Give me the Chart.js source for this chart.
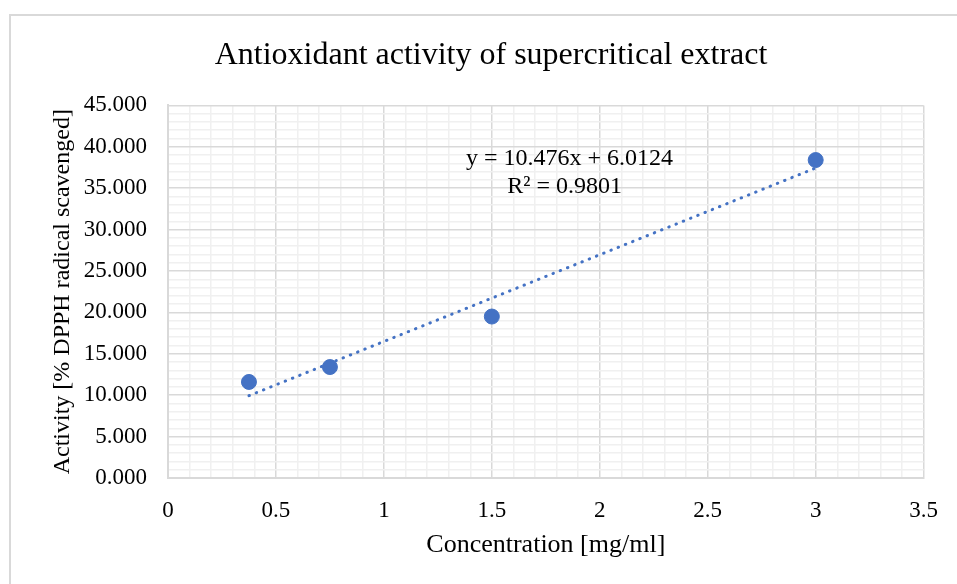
<!DOCTYPE html>
<html>
<head>
<meta charset="utf-8">
<script src="https://cdn.jsdelivr.net/npm/chart.js@4/dist/chart.umd.min.js"></script>
<style>
  html, body { margin: 0; padding: 0; background: #fff; overflow: hidden; }
  #frame { position: absolute; left: 9px; top: 14px; width: 1000px; height: 700px; border: 2px solid #d9d9d9; box-sizing: border-box; }
  #wrap { position: absolute; left: 0; top: 0; width: 957px; height: 584px; }
</style>
</head>
<body>
<div id="frame"></div>
<div id="wrap"><canvas id="myChart"></canvas></div>
<script>
// measured points
var concentracion = [0.375, 0.75, 1.5, 3];
var actividad = [11.6, 13.4, 19.5, 38.4];

// linear trendline end points (y = 10.476x + 6.0124)
var tendenciaX = [0.375, 3];
var tendenciaY = [9.94, 37.44];

var ecuacion = "y = 10.476x + 6.0124";
var rCuadrado = "R\u00b2 = 0.9801";

var serif = "'Liberation Serif', 'Times New Roman', serif";
var azul = "#4472C4";

function puntos(xs, ys) {
	var out = [];
	for (var i = 0; i < xs.length; i++) out.push({x: xs[i], y: ys[i]});
	return out;
}

var etiquetaEcuacion = {
	id: "etiquetaEcuacion",
	afterDatasetsDraw: function(chart) {
		var c = chart.ctx;
		var px = chart.scales.x.getPixelForValue(1.86);
		var py = chart.scales.y.getPixelForValue(38.6);
		c.save();
		c.fillStyle = "#000";
		c.font = "24px " + serif;
		c.textAlign = "center";
		c.textBaseline = "middle";
		c.fillText(ecuacion, px, py);
		c.fillText(rCuadrado, px - 5, py + 28);
		c.restore();
	}
};

var ctx = document.getElementById("myChart").getContext("2d");
var chart = new Chart(ctx, {
	type: "scatter",
	data: {
		datasets: [{
			label: "Activity",
			data: puntos(concentracion, actividad),
			backgroundColor: azul,
			borderColor: azul,
			pointRadius: 7.5,
			pointHoverRadius: 7.5,
			order: 1
		}, {
			label: "Linear",
			type: "line",
			data: puntos(tendenciaX, tendenciaY),
			borderColor: azul,
			borderWidth: 3,
			borderDash: [0.5, 7.3],
			borderCapStyle: "round",
			pointRadius: 0,
			fill: false,
			order: 2
		}]
	},
	options: {
		responsive: true,
		maintainAspectRatio: false,
		animation: false,
		layout: { padding: { left: 40, right: 15, top: 20, bottom: 10 } },
		plugins: {
			legend: { display: false },
			tooltip: { enabled: false },
			title: {
				display: true,
				text: "Antioxidant activity of supercritical extract",
				color: "#000",
				font: { family: serif, size: 32, weight: "normal" },
				padding: { top: 16, bottom: 31 }
			}
		},
		scales: {
			x: {
				type: "linear",
				min: 0,
				max: 3.5,
				afterFit: function(s) { s.height = 96; },
				ticks: {
					stepSize: 0.1,
					autoSkip: false,
					maxRotation: 0,
					padding: 19,
					color: "#000",
					font: { family: serif, size: 23 },
					callback: function(v) {
						return Math.round(v * 10) % 5 === 0 ? String(Math.round(v * 10) / 10) : "";
					}
				},
				grid: {
					drawTicks: false,
					lineWidth: 1.5,
					color: function(c) {
						return Math.round(c.tick.value * 10) % 5 === 0 ? "#d9d9d9" : "#f0f0f0";
					}
				},
				border: { display: true, color: "#d9d9d9", width: 2 },
				title: {
					display: true,
					text: "Concentration [mg/ml]",
					color: "#000",
					font: { family: serif, size: 26 },
					padding: { top: 0, bottom: 13 }
				}
			},
			y: {
				type: "linear",
				min: 0,
				max: 45,
				afterFit: function(s) { s.width = 128; },
				ticks: {
					stepSize: 1,
					autoSkip: false,
					padding: 21,
					color: "#000",
					font: { family: serif, size: 23 },
					callback: function(v) {
						return Math.round(v) % 5 === 0 ? v.toFixed(3) : "";
					}
				},
				grid: {
					drawTicks: false,
					lineWidth: 1.5,
					color: function(c) {
						return Math.round(c.tick.value) % 5 === 0 ? "#d9d9d9" : "#f0f0f0";
					}
				},
				border: { display: true, color: "#d9d9d9", width: 2 },
				title: {
					display: true,
					text: "Activity [% DPPH radical scavenged]",
					color: "#000",
					font: { family: serif, size: 24 },
					padding: { top: 8, bottom: 0 }
				}
			},
			dummy: {
				type: "linear",
				position: "right",
				display: true,
				afterFit: function(s) { s.width = 17; },
				grid: { display: false, drawTicks: false },
				ticks: { display: false },
				border: { display: false }
			}
		}
	},
	plugins: [etiquetaEcuacion]
});
</script>
</body>
</html>
